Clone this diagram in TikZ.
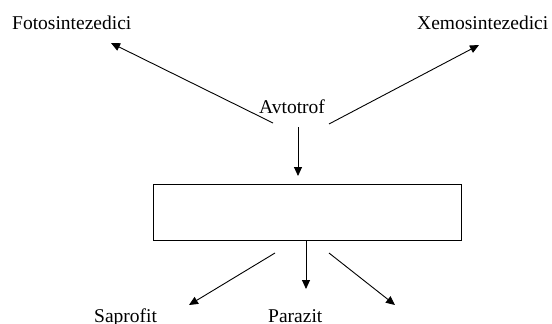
\documentclass[tikz,border=0pt]{standalone}
\usepackage{fontspec}
\setmainfont{Liberation Serif}
\usetikzlibrary{arrows.meta}
\begin{document}
\begin{tikzpicture}[x=1pt,y=-1pt,
  lbl/.style={inner sep=0pt,anchor=base west,font=\fontsize{19.5}{22}\selectfont},
  arr/.style={line width=0.9pt,-{Triangle[length=9pt,width=8pt]}},
  box/.style={draw,line width=0.9pt,inner sep=0pt}]
\useasboundingbox (0,0) rectangle (552,324);
\node[lbl] (foto) at (12,29.5) {Fotosintezedici};
\node[lbl] (xemo) at (417,29.5) {Xemosintezedici};
\node[lbl] (avto) at (259,113) {Avtotrof};
\node[lbl] (sapro) at (94,322) {Saprofit};
\node[lbl] (para) at (268,322) {Parazit};
\node[box,minimum width=308pt,minimum height=56pt] (rect) at (307,212) {};
\coordinate (aL) at (273,123);
\coordinate (aR) at (329,124);
\coordinate (aD) at (298,127);
\coordinate (tL) at (111,43);
\coordinate (tR) at (479,45);
\coordinate (tD) at (298,176);
\coordinate (bL) at (275,253);
\coordinate (bR) at (329,253);
\coordinate (eL) at (189,305);
\coordinate (eR) at (395,305);
\coordinate (eM) at (306,289);
\draw[arr] (aL) -- (tL);
\draw[arr] (aR) -- (tR);
\draw[arr] (aD) -- (tD);
\draw[arr] (rect.south -| eM) -- (eM);
\draw[arr] (bL) -- (eL);
\draw[arr] (bR) -- (eR);
\end{tikzpicture}
\end{document}
